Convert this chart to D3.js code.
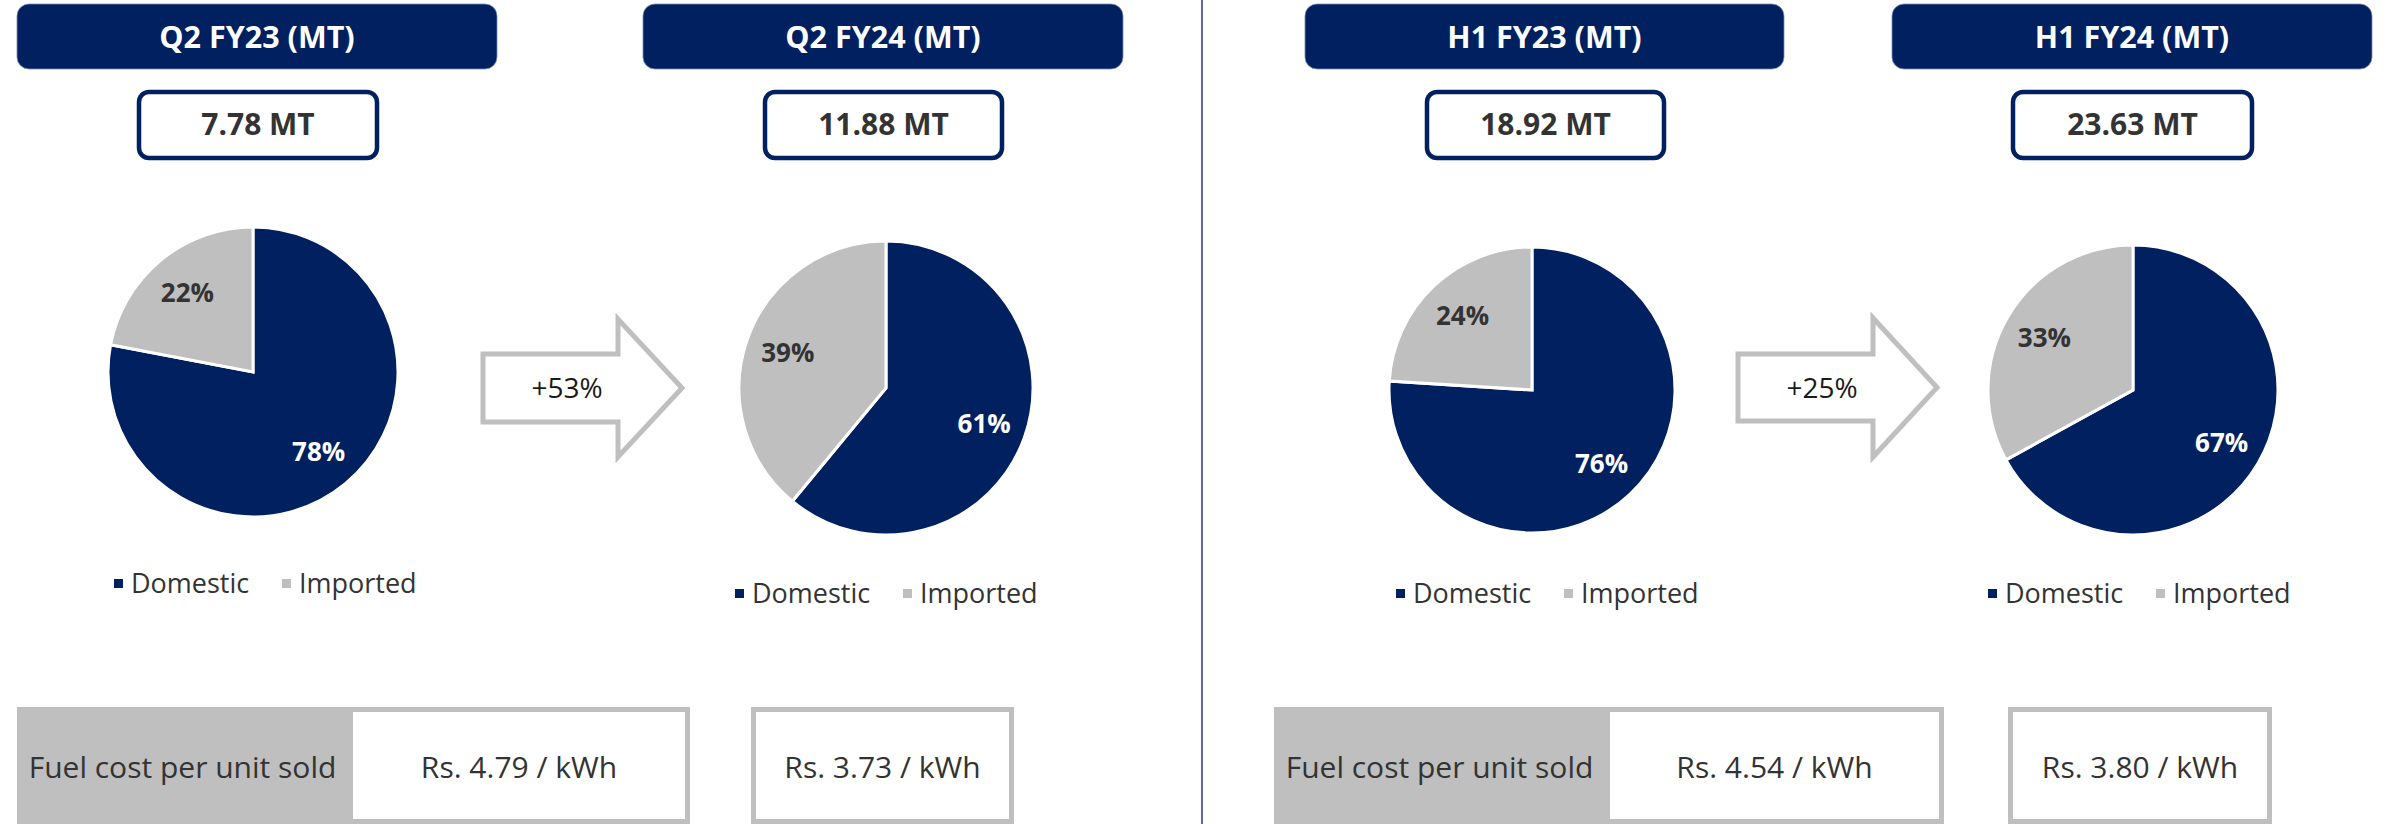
<!DOCTYPE html>
<html>
<head>
<meta charset="utf-8">
<script src="https://cdn.jsdelivr.net/npm/d3@7"></script>
<style>
  html, body { margin: 0; padding: 0; background: #ffffff; }
  svg { display: block; }
  text { font-family: "Open Sans", "Noto Sans", sans-serif; }
</style>
</head>
<body>
<svg id="chart" width="2387" height="824"></svg>
<script>
// ---------------- DATA ----------------
const periods = ["Q2 FY23 (MT)", "Q2 FY24 (MT)", "H1 FY23 (MT)", "H1 FY24 (MT)"];
const totals = ["7.78 MT", "11.88 MT", "18.92 MT", "23.63 MT"];
const categories = ["Domestic", "Imported"];
const domesticShare = [78, 61, 76, 67];
const importedShare = [22, 39, 24, 33];
const growthLabels = ["+53%", "+25%"];
const fuelCostLabel = "Fuel cost per unit sold";
const fuelCosts = ["Rs. 4.79 / kWh", "Rs. 3.73 / kWh", "Rs. 4.54 / kWh", "Rs. 3.80 / kWh"];

// ---------------- LAYOUT ----------------
const NAVY = "#002060";
const GREY = "#BFBFBF";
const TEXT = "#333333";

const layout = [
  { hx: [17, 497],   vx: [137, 379],   cx: 253,  cy: 372, r: 145, lx: 131,  ly: 583 },
  { hx: [643, 1123], vx: [763, 1004],  cx: 886,  cy: 388, r: 147, lx: 752,  ly: 593 },
  { hx: [1305, 1784],vx: [1425, 1666], cx: 1532, cy: 390, r: 143, lx: 1413, ly: 593 },
  { hx: [1892, 2372],vx: [2011, 2254], cx: 2133, cy: 390, r: 145, lx: 2005, ly: 593 }
];
const arrows = [
  { x0: 483, x1: 618, tip: 682, yb: [354, 422], yh: [319, 457] },
  { x0: 1738, x1: 1873, tip: 1937, yb: [354, 421], yh: [318, 457] }
];
const bottomBoxes = [
  { x0: 17, split: 348, x1: 690 },
  { x0: 751, split: null, x1: 1014 },
  { x0: 1274, split: 1605, x1: 1944 },
  { x0: 2008, split: null, x1: 2272 }
];

const svg = d3.select("#chart");
const color = d3.scaleOrdinal().domain(categories).range([NAVY, GREY]);
const labelColor = d3.scaleOrdinal().domain(categories).range(["#ffffff", TEXT]);

// divider
svg.append("line")
  .attr("x1", 1202).attr("x2", 1202).attr("y1", 0).attr("y2", 824)
  .attr("stroke", "#5a6d9c").attr("stroke-width", 2);

const pie = d3.pie().sort(null).value(d => d.value);

periods.forEach((p, i) => {
  const L = layout[i];
  const g = svg.append("g");

  // header
  g.append("rect")
    .attr("x", L.hx[0]).attr("y", 4)
    .attr("width", L.hx[1] - L.hx[0]).attr("height", 65)
    .attr("rx", 12).attr("ry", 12)
    .attr("fill", NAVY).attr("stroke", "#7a8db5").attr("stroke-width", 0.8);
  g.append("text")
    .attr("x", (L.hx[0] + L.hx[1]) / 2).attr("y", 37).attr("dy", "0.36em")
    .attr("text-anchor", "middle").attr("fill", "#ffffff")
    .attr("font-weight", 700).attr("font-size", 30.5)
    .text(p);

  // total box
  g.append("rect")
    .attr("x", L.vx[0] + 2).attr("y", 92)
    .attr("width", L.vx[1] - L.vx[0] - 4).attr("height", 66)
    .attr("rx", 10).attr("ry", 10)
    .attr("fill", "#ffffff").attr("stroke", NAVY).attr("stroke-width", 4.5);
  g.append("text")
    .attr("x", (L.vx[0] + L.vx[1]) / 2).attr("y", 124).attr("dy", "0.36em")
    .attr("text-anchor", "middle").attr("fill", TEXT)
    .attr("font-weight", 700).attr("font-size", 30)
    .text(totals[i]);

  // pie
  const data = [
    { cat: categories[0], value: domesticShare[i] },
    { cat: categories[1], value: importedShare[i] }
  ];
  const arcs = pie(data);
  const arc = d3.arc().innerRadius(0).outerRadius(L.r);
  const labelArc = d3.arc().innerRadius(L.r * 0.71).outerRadius(L.r * 0.71);
  const pg = g.append("g").attr("transform", `translate(${L.cx},${L.cy})`);
  pg.selectAll("path").data(arcs).join("path")
    .attr("d", arc)
    .attr("fill", d => color(d.data.cat))
    .attr("stroke", "#ffffff").attr("stroke-width", 3).attr("stroke-linejoin", "miter");
  pg.selectAll("text").data(arcs).join("text")
    .attr("transform", d => `translate(${labelArc.centroid(d)})`)
    .attr("dy", "0.36em")
    .attr("text-anchor", "middle")
    .attr("fill", d => labelColor(d.data.cat))
    .attr("font-weight", 700).attr("font-size", 26)
    .text(d => d.data.value + "%");

  // legend
  const lg = g.append("g");
  categories.forEach((c, k) => {
    const tx = L.lx + k * 168;
    lg.append("rect")
      .attr("x", tx - 17).attr("y", L.ly - 4)
      .attr("width", 9).attr("height", 9)
      .attr("fill", color(c));
    lg.append("text")
      .attr("x", tx).attr("y", L.ly).attr("dy", "0.36em")
      .attr("fill", TEXT).attr("font-size", 27)
      .text(c);
  });

  // bottom fuel cost box
  const B = bottomBoxes[i];
  if (B.split !== null) {
    g.append("rect")
      .attr("x", B.x0).attr("y", 707)
      .attr("width", B.split - B.x0).attr("height", 117)
      .attr("fill", GREY);
    g.append("rect")
      .attr("x", B.split + 2.5).attr("y", 709.5)
      .attr("width", B.x1 - B.split - 5).attr("height", 112)
      .attr("fill", "#ffffff").attr("stroke", GREY).attr("stroke-width", 5);
    g.append("text")
      .attr("x", (B.x0 + B.split) / 2).attr("y", 767).attr("dy", "0.36em")
      .attr("text-anchor", "middle").attr("fill", TEXT).attr("font-size", 30)
      .text(fuelCostLabel);
    g.append("text")
      .attr("x", (B.split + B.x1) / 2).attr("y", 767).attr("dy", "0.36em")
      .attr("text-anchor", "middle").attr("fill", TEXT).attr("font-size", 30)
      .text(fuelCosts[i]);
  } else {
    g.append("rect")
      .attr("x", B.x0 + 2.5).attr("y", 709.5)
      .attr("width", B.x1 - B.x0 - 5).attr("height", 112)
      .attr("fill", "#ffffff").attr("stroke", GREY).attr("stroke-width", 5);
    g.append("text")
      .attr("x", (B.x0 + B.x1) / 2).attr("y", 767).attr("dy", "0.36em")
      .attr("text-anchor", "middle").attr("fill", TEXT).attr("font-size", 30)
      .text(fuelCosts[i]);
  }
});

// growth arrows
arrows.forEach((A, i) => {
  const ym = (A.yh[0] + A.yh[1]) / 2;
  const pts = [
    [A.x0, A.yb[0]], [A.x1, A.yb[0]], [A.x1, A.yh[0]], [A.tip, ym],
    [A.x1, A.yh[1]], [A.x1, A.yb[1]], [A.x0, A.yb[1]]
  ];
  svg.append("path")
    .attr("d", d3.line()(pts) + "Z")
    .attr("fill", "#ffffff").attr("stroke", GREY).attr("stroke-width", 5)
    .attr("stroke-linejoin", "miter");
  svg.append("text")
    .attr("x", A.x0 + 84).attr("y", ym).attr("dy", "0.36em")
    .attr("text-anchor", "middle").attr("fill", "#1a1a1a").attr("font-size", 28)
    .text(growthLabels[i]);
});
</script>
</body>
</html>
